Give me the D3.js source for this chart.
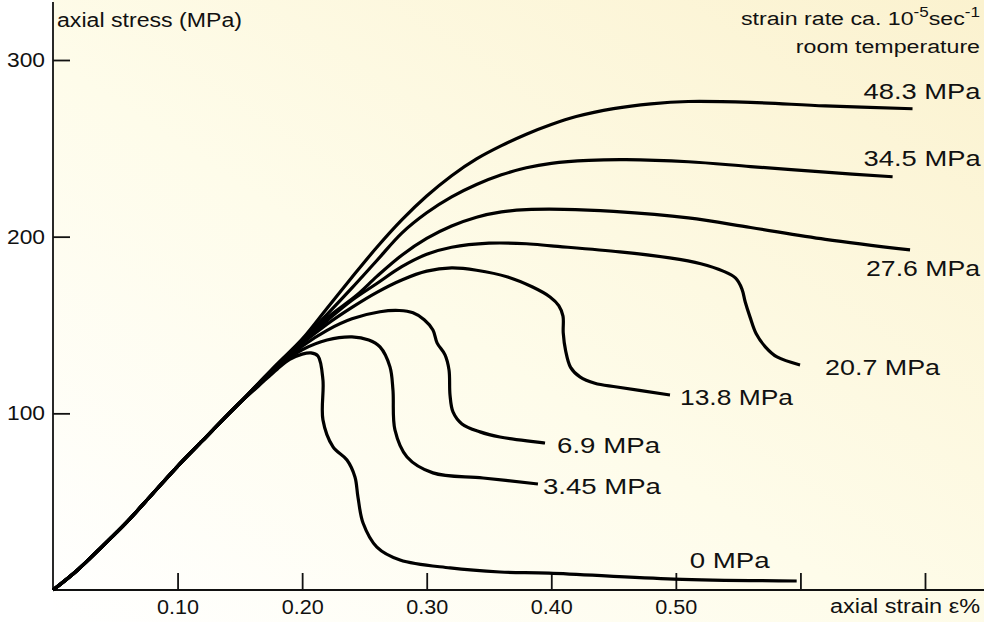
<!DOCTYPE html>
<html><head><meta charset="utf-8">
<script src="https://cdn.jsdelivr.net/npm/d3@7"></script>
<style>
body{margin:0;background:#fff}
svg{display:block}
text{font-family:"Liberation Sans",Arial,sans-serif;fill:#111}
</style>
</head><body>
<svg id="chart" width="984" height="622"></svg>
<script>
// ---- data (axial strain %, axial stress MPa) ----
const xTicks = [0.1, 0.2, 0.3, 0.4, 0.5, 0.6, 0.7];
const xTickLabels = ["0.10", "0.20", "0.30", "0.40", "0.50", "", ""];
const yTicks = [100, 200, 300];
const loading = [[0,0],[0.02,11.5],[0.04,25],[0.06,39],[0.08,54.5],[0.10,70],[0.12,84.5],[0.14,99],[0.15,106]];
const c48_3 = [[0.165,117],[0.18,128],[0.20,142],[0.22,159.5],[0.24,177],[0.26,194],[0.28,209.5],[0.30,223],[0.32,234.5],[0.34,244],[0.36,251.5],[0.38,258],[0.40,263.5],[0.42,268],[0.45,272.5],[0.48,275.2],[0.51,276.5],[0.56,276],[0.62,274],[0.69,272.4]];
const c34_5 = [[0.165,117],[0.18,127.5],[0.20,141.5],[0.22,156],[0.24,171],[0.26,186.5],[0.28,202],[0.30,213.5],[0.32,222.5],[0.34,229.5],[0.36,235],[0.38,239],[0.40,241.5],[0.43,243.2],[0.46,243.6],[0.51,242.4],[0.56,239.7],[0.62,236.5],[0.674,233.9]];
const c27_6 = [[0.165,116.5],[0.18,127],[0.20,141],[0.22,154],[0.244,167],[0.26,177.5],[0.28,189.5],[0.30,199],[0.32,206],[0.34,211],[0.36,214],[0.38,215.3],[0.41,215.5],[0.45,214.3],[0.51,210.6],[0.56,205.2],[0.62,198.5],[0.688,192.5]];
const c20_7 = [[0.165,116.5],[0.18,127],[0.20,140],[0.22,152.5],[0.24,164],[0.26,173.5],[0.28,183],[0.30,190],[0.32,194],[0.35,196.3],[0.38,196],[0.40,194.8],[0.455,191.4],[0.495,188],[0.52,184.7],[0.538,180.5],[0.548,176.5],[0.553,170.5],[0.5557,163],[0.5595,154.6],[0.5645,145],[0.572,137.5],[0.5812,131.9],[0.5997,127.4]];
const c13_8 = [[0.165,116.5],[0.18,127],[0.20,139.5],[0.22,150.5],[0.24,160],[0.26,168.5],[0.28,175.5],[0.30,180.5],[0.32,182.3],[0.34,181],[0.365,177.2],[0.385,171.5],[0.399,165.9],[0.406,161],[0.4094,155],[0.4096,145.5],[0.4115,135.5],[0.4155,126],[0.423,120.6],[0.435,117],[0.4527,114.9],[0.4953,110.4]];
const c6_9 = [[0.165,116],[0.18,126.5],[0.20,138],[0.22,147],[0.24,153.5],[0.2625,157.5],[0.278,158.2],[0.289,156.9],[0.298,153],[0.305,147.2],[0.3083,139.9],[0.3147,133.1],[0.3179,124.6],[0.3187,110.4],[0.3211,100.8],[0.3283,94],[0.3428,89.5],[0.3588,86.6],[0.395,83.2]];
const c3_45 = [[0.165,116],[0.18,126],[0.19,131.5],[0.20,136],[0.22,141.5],[0.24,143.3],[0.2535,141.5],[0.2625,137.6],[0.2705,126.3],[0.2729,113.3],[0.2745,90.6],[0.2842,75.3],[0.305,66.3],[0.3452,63.4],[0.3893,60]];
const c0 = [[0.165,115.5],[0.18,125],[0.19,130.5],[0.20,133.5],[0.207,134.2],[0.2127,132.5],[0.2167,118.9],[0.2167,96.3],[0.2248,81],[0.236,73.6],[0.2424,64],[0.2448,52.7],[0.2489,37.9],[0.26,24.3],[0.2786,17],[0.3187,12.5],[0.3588,10.2],[0.3982,9.6],[0.4985,6.2],[0.597,5.1]];
const seriesNames = ["48.3 MPa","34.5 MPa","27.6 MPa","20.7 MPa","13.8 MPa","6.9 MPa","3.45 MPa","0 MPa"];
const seriesValues = [c48_3, c34_5, c27_6, c20_7, c13_8, c6_9, c3_45, c0];

// ---- label styling: pixel offsets from each curve's last point, and text widths ----
const labelStyle = [
  {dx:-49, dy:-10, w:117}, {dx:-29, dy:-11, w:117}, {dx:-44, dy:26, w:114}, {dx:25, dy:10, w:115},
  {dx:10, dy:10, w:113}, {dx:12, dy:10, w:103}, {dx:5, dy:10, w:118}, {dx:-107, dy:-13, w:80}
];

const W = 984, H = 622;
const FONT = "'Liberation Sans',Arial,sans-serif";
const svg = d3.select("#chart");
const x = d3.scaleLinear().domain([0, 0.7]).range([53, 53 + 0.7 * 1245.7]);
const y = d3.scaleLinear().domain([0, 300]).range([590, 60]);

// background gradient
const defs = svg.append("defs");
const g = defs.append("linearGradient").attr("id","bg")
  .attr("x1","0").attr("y1","1").attr("x2","1").attr("y2","0");
g.append("stop").attr("offset","0").attr("stop-color","#ffffff");
g.append("stop").attr("offset","0.45").attr("stop-color","#fefcea");
g.append("stop").attr("offset","1").attr("stop-color","#fbf2cf");
svg.append("rect").attr("x", x(0)).attr("y", 0).attr("width", W - x(0)).attr("height", H).attr("fill","url(#bg)");

// axes
const xAxis = d3.axisBottom(x).tickValues(xTicks)
  .tickFormat((d,i) => xTickLabels[i]).tickSizeInner(-17).tickSizeOuter(0).tickPadding(10);
const gx = svg.append("g").attr("transform", `translate(0,${y(0)})`).call(xAxis);
gx.select(".domain").remove();
gx.selectAll(".tick line").attr("stroke","#111").attr("stroke-width",1.8);
gx.selectAll(".tick text").attr("font-size",20).attr("fill","#111").style("font-family",FONT)
  .filter(function(){ return this.textContent !== ""; })
  .attr("textLength",42).attr("lengthAdjust","spacingAndGlyphs");

const yAxis = d3.axisLeft(y).tickValues(yTicks).tickSizeInner(-17).tickSizeOuter(0).tickPadding(8);
const gy = svg.append("g").attr("transform", `translate(${x(0)},0)`).call(yAxis);
gy.select(".domain").remove();
gy.selectAll(".tick line").attr("stroke","#111").attr("stroke-width",1.8);
gy.selectAll(".tick text").attr("font-size",20).attr("fill","#111").style("font-family",FONT)
  .attr("textLength",38).attr("lengthAdjust","spacingAndGlyphs");

svg.append("line").attr("x1", x(0)).attr("x2", W).attr("y1", y(0)).attr("y2", y(0))
  .attr("stroke","#111").attr("stroke-width",1.8);
svg.append("line").attr("x1", x(0)).attr("x2", x(0)).attr("y1", 2).attr("y2", y(0))
  .attr("stroke","#111").attr("stroke-width",1.8);

// axis titles
svg.append("text").attr("x", x(0) + 4).attr("y", 27).attr("font-size", 20)
  .attr("textLength",185).attr("lengthAdjust","spacingAndGlyphs").text("axial stress (MPa)");
svg.append("text").attr("x", 980).attr("y", 613).attr("font-size", 20).attr("text-anchor","end")
  .attr("textLength",150).attr("lengthAdjust","spacingAndGlyphs").text("axial strain ε%");

// condition note (horizontally stretched like the reference lettering)
const noteG = svg.append("g").attr("transform", "translate(980,0) scale(1.22,1)");
const note = noteG.append("text").attr("x", 0).attr("y", 25).attr("font-size", 19).attr("text-anchor","end");
note.append("tspan").text("strain rate ca. 10");
note.append("tspan").attr("font-size",14).attr("dy",-8).text("-5");
note.append("tspan").attr("dy",8).text("sec");
note.append("tspan").attr("font-size",14).attr("dy",-8).text("-1");
noteG.append("text").attr("x", 0).attr("y", 53).attr("font-size", 19).attr("text-anchor","end").text("room temperature");

// curves
const line = d3.line().x(d => x(d[0])).y(d => y(d[1])).curve(d3.curveCatmullRom.alpha(0.5));
seriesValues.forEach((vals, i) => {
  const pts = loading.concat(vals);
  svg.append("path").datum(pts).attr("d", line)
    .attr("fill","none").attr("stroke","#000").attr("stroke-width",3.2)
    .attr("stroke-linejoin","round").attr("stroke-linecap","butt");
  const last = vals[vals.length - 1];
  svg.append("text")
    .attr("x", x(last[0]) + labelStyle[i].dx)
    .attr("y", y(last[1]) + labelStyle[i].dy)
    .attr("font-size", 22)
    .attr("textLength", labelStyle[i].w).attr("lengthAdjust","spacingAndGlyphs")
    .text(seriesNames[i]);
});
</script>
</body></html>
